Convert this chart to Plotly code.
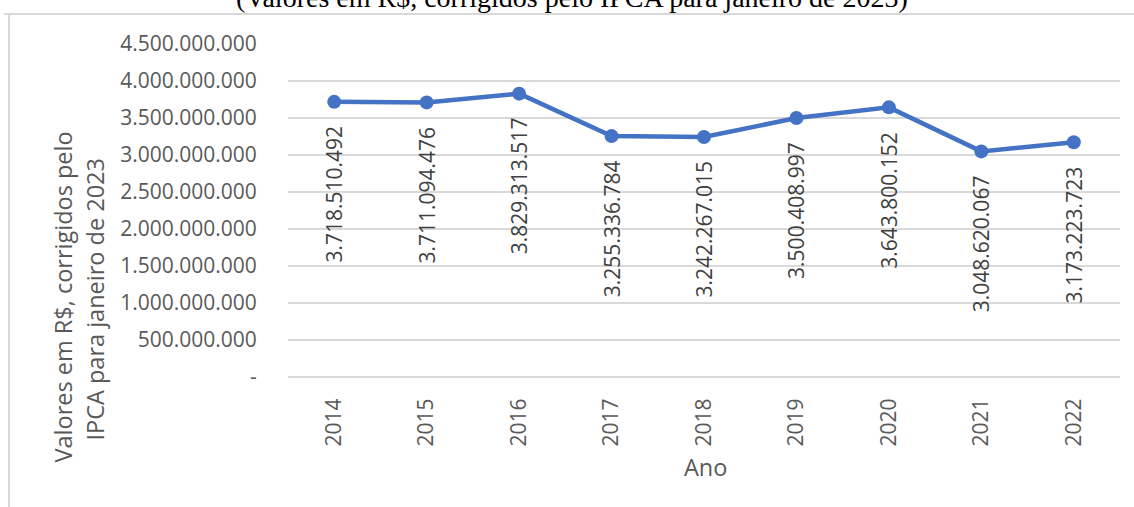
import plotly.graph_objects as go

anos = ["2014", "2015", "2016", "2017", "2018", "2019", "2020", "2021", "2022"]
valores = [3718510492, 3711094476, 3829313517, 3255336784, 3242267015,
           3500408997, 3643800152, 3048620067, 3173223723]
rotulos = ["3.718.510.492", "3.711.094.476", "3.829.313.517", "3.255.336.784",
           "3.242.267.015", "3.500.408.997", "3.643.800.152", "3.048.620.067",
           "3.173.223.723"]
y_ticks = [0, 500000000, 1000000000, 1500000000, 2000000000, 2500000000,
           3000000000, 3500000000, 4000000000, 4500000000]
y_ticktext = ["-", "500.000.000", "1.000.000.000", "1.500.000.000", "2.000.000.000",
              "2.500.000.000", "3.000.000.000", "3.500.000.000", "4.000.000.000",
              "4.500.000.000"]

FONT = "Open Sans"
GRID = "#d9d9d9"
TXT = "#595959"

fig = go.Figure()
fig.add_trace(go.Scatter(
    x=anos, y=valores, mode="lines+markers",
    line=dict(color="#4472c4", width=4.5),
    marker=dict(color="#4472c4", size=14),
    hoverinfo="skip", showlegend=False,
))

annotations = []
for i, (v, t) in enumerate(zip(valores, rotulos)):
    annotations.append(dict(
        x=i, y=v, xref="x", yref="y", text=t, showarrow=False,
        textangle=-90, yanchor="top", xanchor="center", yshift=-22,
        font=dict(family=FONT, size=21, color="#404040"),
    ))

# title (cut off at top, as in the source image)
annotations.append(dict(
    x=0.5, xref="paper", y=1, yref="paper", yshift=29, yanchor="bottom",
    xanchor="center", showarrow=False,
    text="(Valores em R$, corrigidos pelo IPCA para janeiro de 2023)",
    font=dict(family="Liberation Serif", size=28, color="#000000"),
    xshift=-132,
))
# y axis title (two lines)
annotations.append(dict(
    x=0, xref="paper", xshift=-226, y=0.5, yref="paper", yshift=-87,
    text="Valores em R$, corrigidos pelo", showarrow=False, textangle=-90,
    font=dict(family=FONT, size=23.5, color=TXT), xanchor="center", yanchor="middle",
))
annotations.append(dict(
    x=0, xref="paper", xshift=-194, y=0.5, yref="paper", yshift=-89,
    text="IPCA para janeiro de 2023", showarrow=False, textangle=-90,
    font=dict(family=FONT, size=23.5, color=TXT), xanchor="center", yanchor="middle",
))
# x axis title
annotations.append(dict(
    x=0.5, xref="paper", xshift=1, y=0, yref="paper", yshift=-90,
    text="Ano", showarrow=False,
    font=dict(family=FONT, size=23.5, color=TXT), xanchor="center", yanchor="middle",
))

fig.update_layout(
    width=1134, height=507,
    margin=dict(l=288, r=14, t=44, b=130),
    paper_bgcolor="white", plot_bgcolor="white",
    font=dict(family=FONT, size=21, color=TXT),
    annotations=annotations,
    shapes=[
        dict(type="line", xref="paper", yref="paper",
             x0=(4 - 288) / 832, x1=1.1, y0=1 + 30 / 333, y1=1 + 30 / 333,
             line=dict(color=GRID, width=2)),
        dict(type="line", xref="paper", yref="paper",
             x0=(9 - 288) / 832, x1=(9 - 288) / 832, y0=1 + 30 / 333, y1=-1,
             line=dict(color=GRID, width=2)),
    ],
)
fig.update_xaxes(
    type="category", range=[-0.5, 8.5], tickangle=-90,
    showgrid=False, showline=False, ticks="outside", ticklen=12,
    tickcolor="rgba(0,0,0,0)", tickfont=dict(family=FONT, size=21, color=TXT),
)
fig.update_yaxes(
    range=[0, 4500000000], tickvals=y_ticks, ticktext=y_ticktext,
    showgrid=True, gridcolor=GRID, gridwidth=2,
    zeroline=True, zerolinecolor=GRID, zerolinewidth=2,
    showline=False, ticks="outside", ticklen=26, tickcolor="rgba(0,0,0,0)",
    tickfont=dict(family=FONT, size=21, color=TXT),
)

fig.write_html("out.html", config={"displayModeBar": False},
               post_script="document.body.style.margin='0';")
